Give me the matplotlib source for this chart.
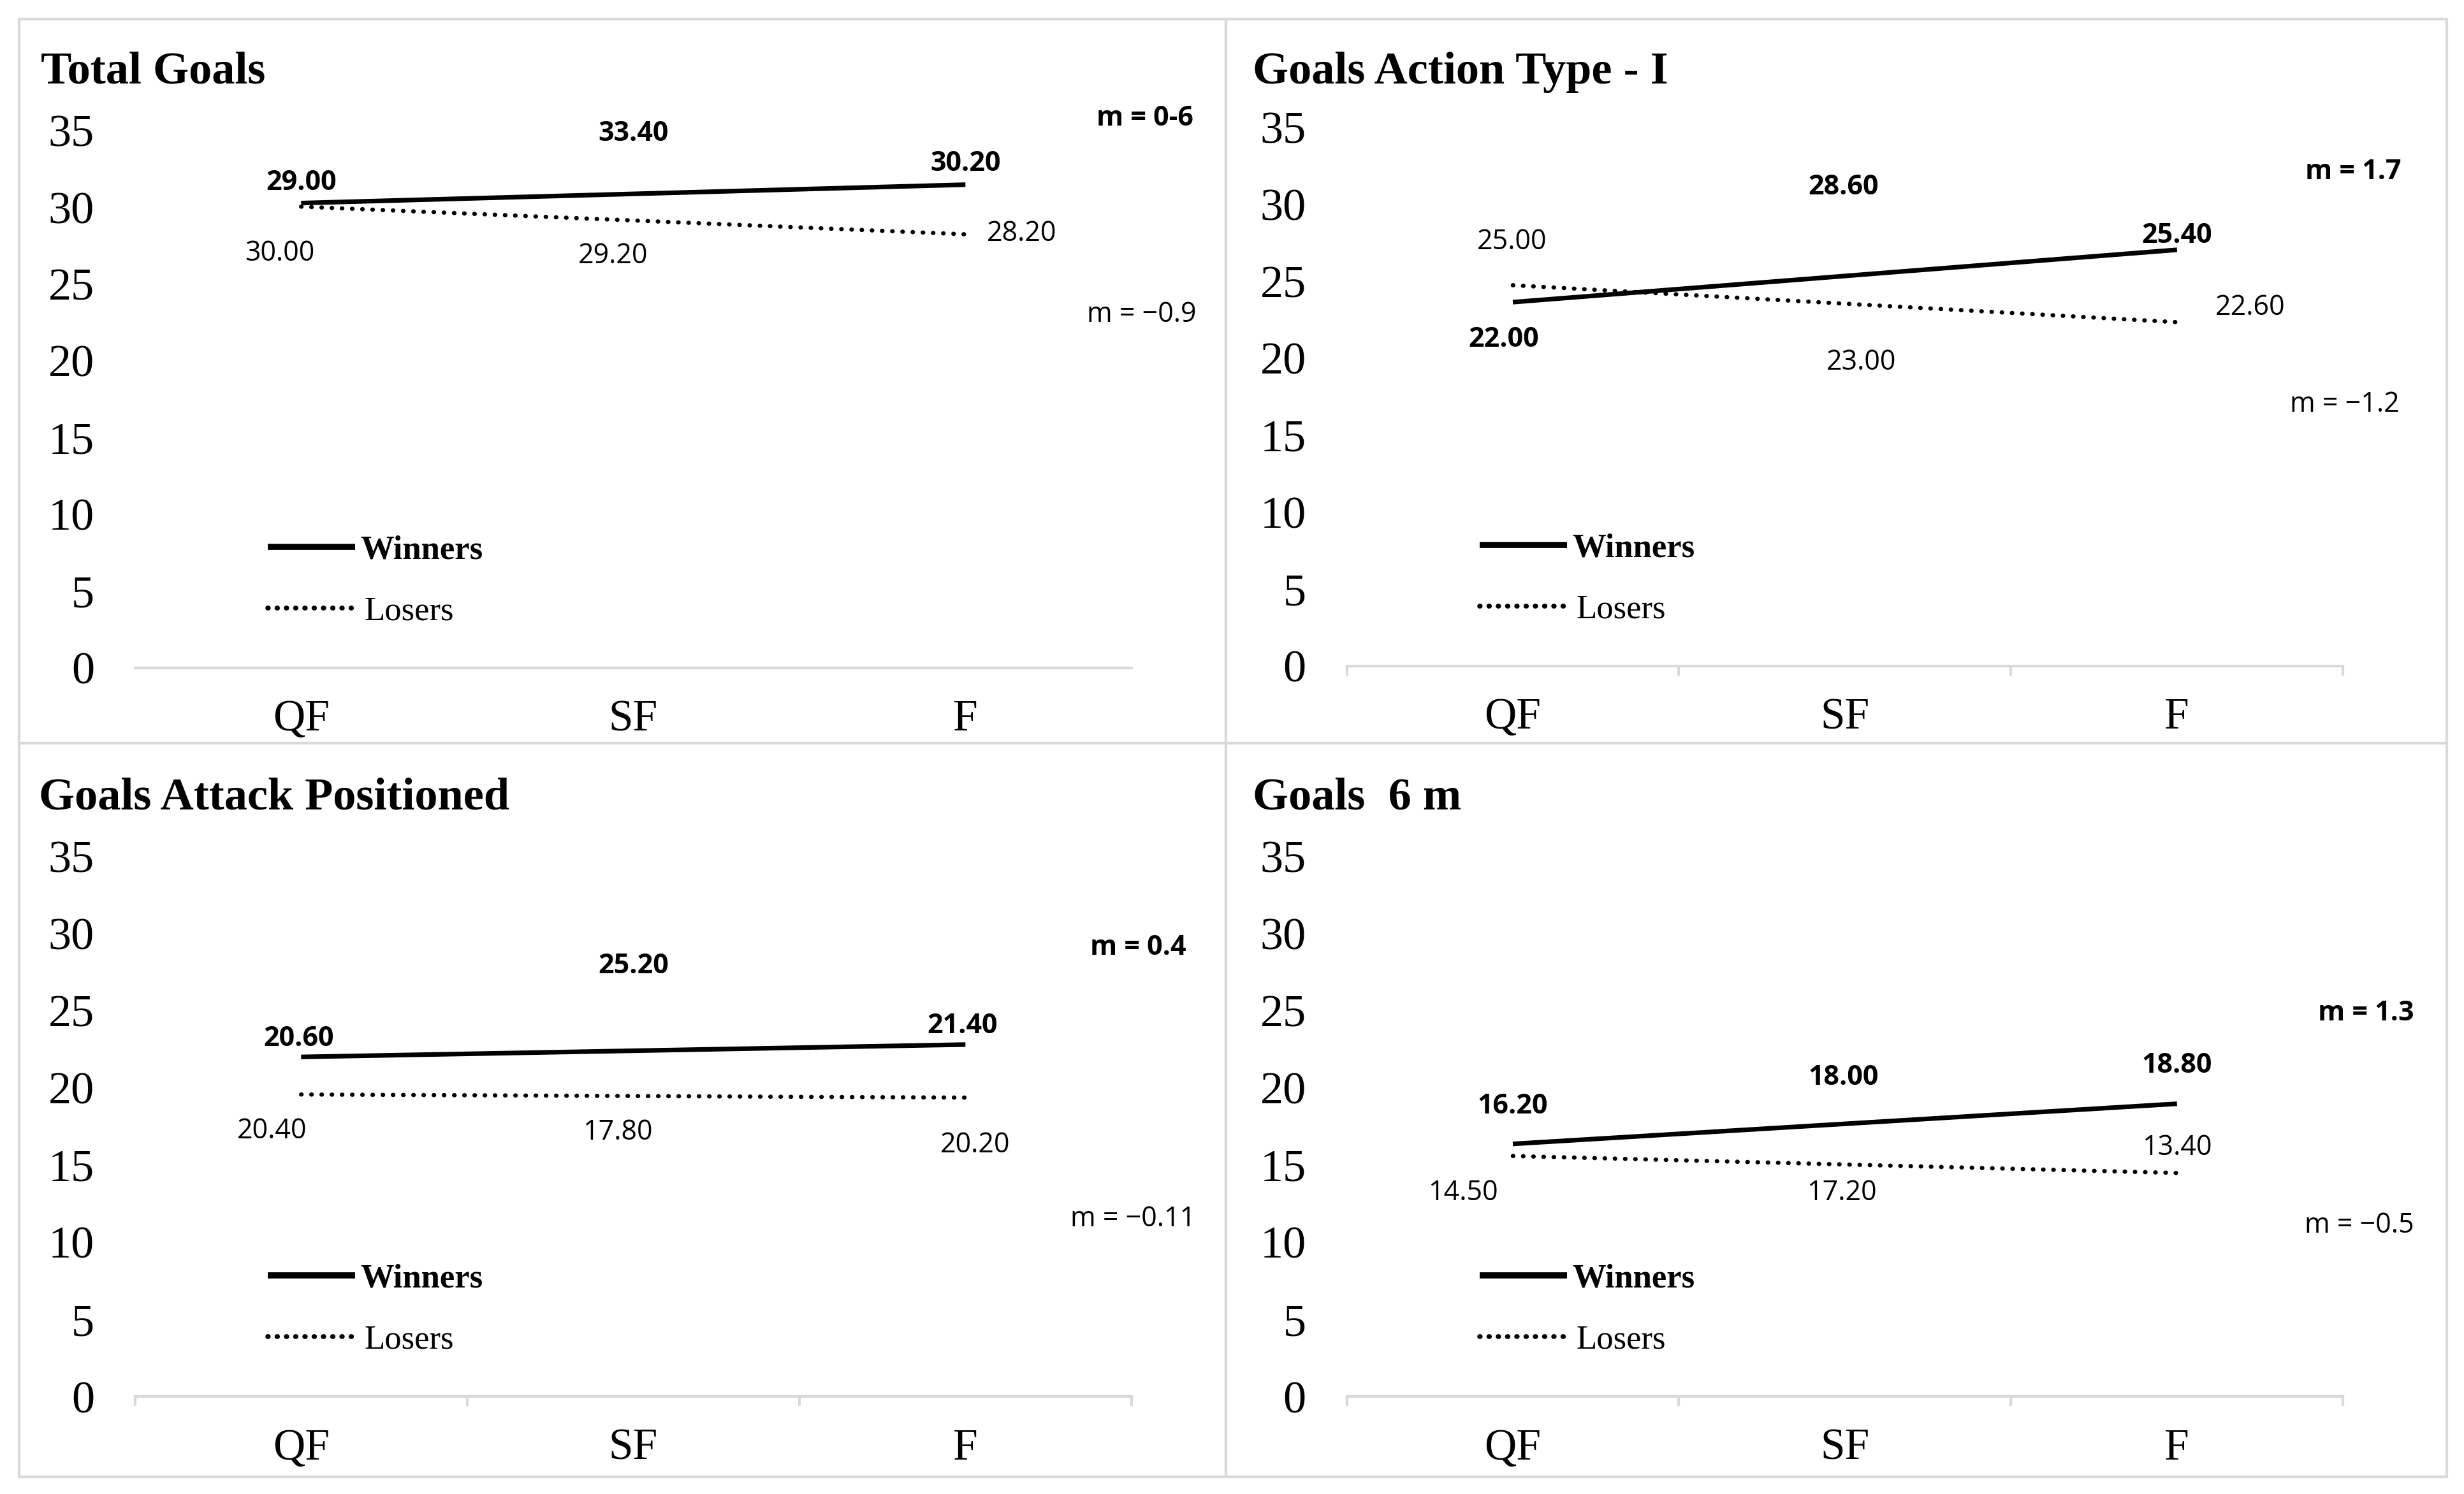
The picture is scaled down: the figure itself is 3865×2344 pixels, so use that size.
import numpy as np
import matplotlib
matplotlib.use('Agg')
import matplotlib.pyplot as plt
from matplotlib.lines import Line2D
from matplotlib.patches import Rectangle

# data
stages = ['QF', 'SF', 'F']
panel_titles = ['Total Goals', 'Goals Action Type - I', 'Goals Attack Positioned', 'Goals  6 m']

winners_total = [29.00, 33.40, 30.20]
losers_total = [30.00, 29.20, 28.20]
winners_type_i = [22.00, 28.60, 25.40]
losers_type_i = [25.00, 23.00, 22.60]
winners_positioned = [20.60, 25.20, 21.40]
losers_positioned = [20.40, 17.80, 20.20]
winners_6m = [16.20, 18.00, 18.80]
losers_6m = [14.50, 17.20, 13.40]

slope_winners = ['m = 0-6', 'm = 1.7', 'm = 0.4', 'm = 1.3']
slope_losers = ['m = \u22120.9', 'm = \u22121.2', 'm = \u22120.11', 'm = \u22120.5']

yticks = [0, 5, 10, 15, 20, 25, 30, 35]

winners = [winners_total, winners_type_i, winners_positioned, winners_6m]
losers = [losers_total, losers_type_i, losers_positioned, losers_6m]

# label placement (x in category units, y in axis units), moved by hand like in the original
lab_w = [[(0.0, 31.6), (1.0, 34.8), (2.0, 32.85)],
         [(-0.027, 21.2), (0.995, 31.1), (2.0, 27.96)],
         [(-0.008, 23.2), (1.0, 27.9), (1.99, 24.0)],
         [(0.0, 18.8), (0.995, 20.65), (2.0, 21.45)]]
lab_l = [[(-0.065, 27.0), (0.94, 26.8), (2.17, 28.25)],
         [(-0.003, 27.55), (1.05, 19.7), (2.22, 23.27)],
         [(-0.088, 17.2), (0.953, 17.1), (2.03, 16.3)],
         [(-0.15, 13.2), (0.99, 13.2), (2.0, 16.1)]]
lab_mw = [(2.54, 35.8), (2.53, 32.1), (2.52, 29.1), (2.57, 24.85)]
lab_ml = [(2.53, 23.0), (2.505, 17.0), (2.505, 11.5), (2.55, 11.1)]

axes_pos = [[0.0548, 0.5531, 0.4044, 0.3596],
            [0.5466, 0.5542, 0.4043, 0.3607],
            [0.0548, 0.0652, 0.4044, 0.3617],
            [0.5466, 0.0652, 0.4043, 0.3617]]
title_pos = [(0.0166, 0.9516), (0.5083, 0.9516), (0.0159, 0.466), (0.5083, 0.466)]

SERIF = 'Liberation Serif'
SANS = 'Open Sans'
GRID = '#d9d9d9'

fig = plt.figure(figsize=(38.65, 23.44), dpi=100)
fig.patch.set_facecolor('white')

# panel frames
x0, x1, xm = 30 / 3865, 3838 / 3865, 1923 / 3865
y0, y1, ym = 1 - 2317 / 2344, 1 - 30 / 2344, 1 - 1166 / 2344
for (l, b, r, t) in [(x0, ym, xm, y1), (xm, ym, x1, y1), (x0, y0, xm, ym), (xm, y0, x1, ym)]:
    fig.add_artist(Rectangle((l, b), r - l, t - b, transform=fig.transFigure,
                             fill=False, edgecolor=GRID, lw=3))

x = np.arange(len(stages))

for i in range(4):
    ax = fig.add_axes(axes_pos[i])
    w = np.array(winners[i])
    lo = np.array(losers[i])

    # linear trend lines
    cw = np.polyfit(x, w, 1)
    cl = np.polyfit(x, lo, 1)
    ax.plot(x, np.polyval(cw, x), color='black', lw=5.2, solid_capstyle='butt')
    ax.plot(x, np.polyval(cl, x), color='black', lw=4.8, linestyle=(0, (0.1, 2.3)),
            dash_capstyle='round')

    for v, (tx, ty) in zip(w, lab_w[i]):
        ax.text(tx, ty, f'{v:.2f}', ha='center', va='center', fontsize=31,
                fontweight='bold', family=SANS)
    for v, (tx, ty) in zip(lo, lab_l[i]):
        ax.text(tx, ty, f'{v:.2f}', ha='center', va='center', fontsize=31, family=SANS)
    ax.text(*lab_mw[i], slope_winners[i], ha='center', va='center', fontsize=31,
            fontweight='bold', family=SANS)
    ax.text(*lab_ml[i], slope_losers[i], ha='center', va='center', fontsize=31, family=SANS)

    ax.set_xlim(-0.5, 2.5)
    ax.set_ylim(0, 35)
    ax.set_yticks(yticks)
    ax.set_xticks(x)
    ax.set_xticklabels(stages)
    for s in ['top', 'right', 'left']:
        ax.spines[s].set_visible(False)
    ax.spines['bottom'].set_color(GRID)
    ax.spines['bottom'].set_linewidth(3)
    ax.tick_params(axis='y', length=0, pad=46, labelsize=52)
    ax.tick_params(axis='x', which='major', length=0, pad=36, labelsize=50)
    if i > 0:
        ax.set_xticks([-0.5, 0.5, 1.5, 2.5], minor=True)
        ax.tick_params(axis='x', which='minor', length=11, width=3, color=GRID, direction='out')
    for lab in ax.get_xticklabels() + ax.get_yticklabels():
        lab.set_family(SERIF)

    handles = [Line2D([], [], color='black', lw=7, solid_capstyle='butt'),
               Line2D([], [], color='black', lw=5.5, linestyle=(0, (0.1, 1.8)),
                      dash_capstyle='round')]
    leg = ax.legend(handles, ['Winners', 'Losers'], loc='center left',
                    bbox_to_anchor=(-0.1, 5.65), bbox_transform=ax.transData,
                    frameon=False, borderpad=0, borderaxespad=0, handlelength=2.6,
                    handletextpad=0.15, labelspacing=0.9,
                    prop={'family': SERIF, 'size': 38})
    leg.get_texts()[0].set_fontweight('bold')
    leg.get_texts()[1].set_x(6)

    fig.text(title_pos[i][0], title_pos[i][1], panel_titles[i], ha='left', va='center',
             fontsize=52, fontweight='bold', family=SERIF)

fig.savefig('out.png', dpi=100, facecolor='white')
